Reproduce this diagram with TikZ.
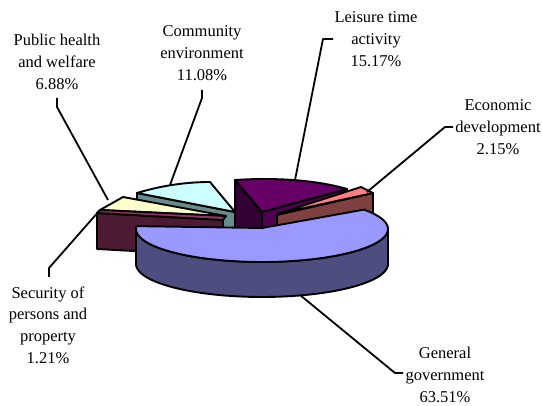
\documentclass[tikz,border=0pt]{standalone}
\usepackage{fontspec}
\setmainfont{Liberation Serif}
\definecolor{ggtop}{RGB}{153,153,255}
\definecolor{ggside}{RGB}{77,77,128}
\definecolor{secside}{RGB}{77,26,51}
\definecolor{sectop}{RGB}{153,51,102}
\definecolor{phtop}{RGB}{255,255,204}
\definecolor{cetop}{RGB}{204,255,255}
\definecolor{ceside}{RGB}{102,140,140}
\definecolor{lttop}{RGB}{102,0,102}
\definecolor{ltside}{RGB}{51,0,51}
\definecolor{ltfront}{RGB}{80,0,80}
\definecolor{edtop}{RGB}{255,128,128}
\definecolor{edside}{RGB}{128,64,64}
\begin{document}
\begin{tikzpicture}[x=1pt,y=-1pt,
  face/.style={draw=black, line width=1.9pt, line join=round},
  lead/.style={draw=black, line width=1.8pt, line join=round},
  lbl/.style={align=center, inner sep=0pt, font=\fontsize{16.5}{21.7}\selectfont}]
\useasboundingbox (0,0) rectangle (542,406);
% Leisure time activity
\draw[face, fill=ltside] (235,180) -- (262,212) -- (262,245) -- (235,232) -- cycle;
\draw[face, fill=ltfront] (262,212) -- (347,189) -- (347,222) -- (262,245) -- cycle;
\draw[face, fill=lttop] (235,180) .. controls (280,177) and (320,181) .. (347,189) -- (262,212) -- cycle;
% Economic development
\draw[face, fill=edside] (277,215) -- (373,193) -- (373,232) -- (277,245) -- cycle;
\draw[face, fill=edtop] (277,214) -- (361,187) -- (373,193) -- cycle;
% Community environment
\draw[face, fill=ceside] (137,193) -- (235,212) -- (235,245) -- (137,228) -- cycle;
\draw[face, fill=cetop] (137,193) .. controls (160,186) and (185,182) .. (210,182) -- (235,212) -- cycle;
% Public health and welfare
\draw[face, fill=phtop] (100,210) -- (123,197) -- (226,216) -- cycle;
% Security of persons and property
\draw[face, fill=secside] (97,213) -- (223,220) -- (223,256) -- (97,249) -- cycle;
\draw[face, fill=sectop] (100,210) -- (226,216) -- (223,220) -- (97,213) -- cycle;
% General government
\draw[face, fill=ggside] plot[domain=0:180, samples=60] ({262+126*cos(\x)},{229+33*sin(\x)})
  -- plot[domain=180:0, samples=60] ({262+126*cos(\x)},{264+33*sin(\x)}) -- cycle;
\draw[face, fill=ggtop] (262,228) -- plot[domain=-36:185, samples=90] ({262+126*cos(\x)},{229+33*sin(\x)}) -- cycle;
% labels
\node[lbl] (ph) at (57,62) {Public health\\and welfare\\6.88\%};
\node[lbl] (ce) at (202,53) {Community\\environment\\11.08\%};
\node[lbl] (lt) at (376,39) {Leisure time\\activity\\15.17\%};
\node[lbl] (ed) at (498,127) {Economic\\development\\2.15\%};
\node[lbl] (sp) at (48,325) {Security of\\persons and\\property\\1.21\%};
\node[lbl] (gg) at (445,375) {General\\government\\63.51\%};
% connector ends
\coordinate (phA) at (57,98);   \coordinate (phB) at (57,107);  \coordinate (phE) at (108,200);
\coordinate (ceA) at (202,90);  \coordinate (ceB) at (202,98);  \coordinate (ceE) at (170,185);
\coordinate (ltA) at (333,39);  \coordinate (ltB) at (323,39);  \coordinate (ltE) at (295,180);
\coordinate (edA) at (453,127); \coordinate (edB) at (445,127); \coordinate (edE) at (367,192);
\coordinate (spA) at (49,277);  \coordinate (spB) at (49,268);  \coordinate (spE) at (100,210);
\coordinate (ggA) at (403,373); \coordinate (ggB) at (395,373); \coordinate (ggE) at (300,295);
\draw[lead] (phA) -- (phB) -- (phE);
\draw[lead] (ceA) -- (ceB) -- (ceE);
\draw[lead] (ltA) -- (ltB) -- (ltE);
\draw[lead] (edA) -- (edB) -- (edE);
\draw[lead] (spA) -- (spB) -- (spE);
\draw[lead] (ggA) -- (ggB) -- (ggE);
\end{tikzpicture}
\end{document}
